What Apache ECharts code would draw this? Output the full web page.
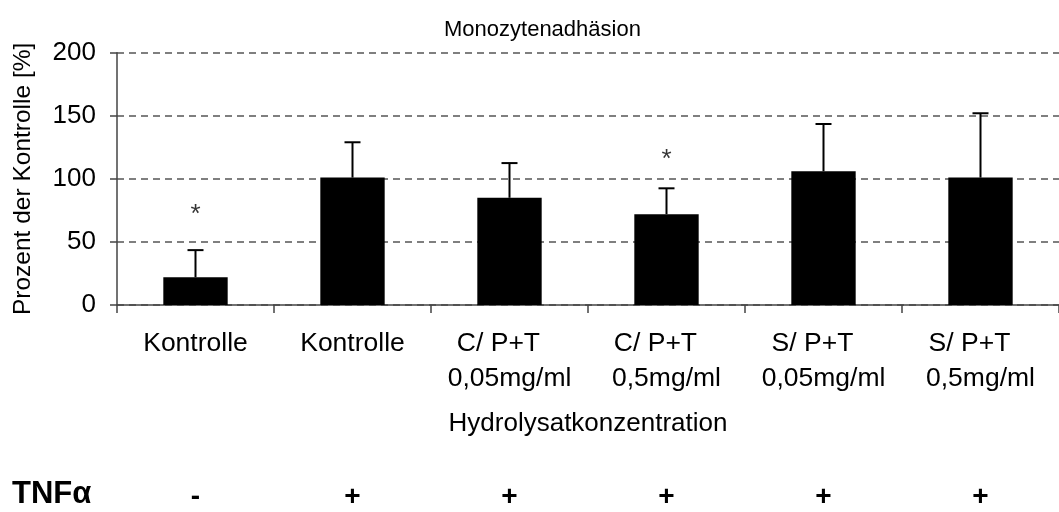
<!DOCTYPE html>
<html>
<head>
<meta charset="utf-8">
<script src="https://cdn.jsdelivr.net/npm/echarts@6/dist/echarts.min.js"></script>
<style>
  html, body { margin: 0; padding: 0; background: #fff; }
  #chart { width: 1059px; height: 512px; }
</style>
</head>
<body>
<div id="chart"></div>
<script>
// Werte
var categories = ['Kontrolle', 'Kontrolle', 'C/ P+T   \n0,05mg/ml', 'C/ P+T   \n0,5mg/ml', 'S/ P+T   \n0,05mg/ml', 'S/ P+T   \n0,5mg/ml'];
var means = [22, 101, 85, 72, 106, 101];
var errTop = [43.5, 129, 112.5, 92.5, 143.5, 152];
var stars = [71.5, null, null, 115, null, null];
var tnf = ['-', '+', '+', '+', '+', '+'];
var yTicks = [0, 50, 100, 150, 200];

var font = 'Liberation Sans, Arial, sans-serif';

var chart = echarts.init(document.getElementById('chart'));

var option = {
  animation: false,
  backgroundColor: '#fff',
  title: {
    text: 'Monozytenadhäsion',
    left: 439,
    top: 14,
    textStyle: { fontFamily: font, fontSize: 22, fontWeight: 'normal', color: '#000' }
  },
  grid: { left: 117, top: 52.7, width: 948, bottom: 207 },
  graphic: [{
    type: 'text',
    left: 12,
    top: 479,
    style: { text: 'TNFα', font: 'bold 31px ' + font, fill: '#000' }
  }],
  xAxis: [{
    type: 'category',
    data: categories,
    boundaryGap: true,
    axisLine: { lineStyle: { color: '#444', width: 1.5 } },
    axisTick: { show: true, length: 8, lineStyle: { color: '#444', width: 1.5 } },
    axisLabel: { margin: 21, fontFamily: font, fontSize: 26.5, color: '#000', lineHeight: 35, interval: 0 },
    name: 'Hydrolysatkonzentration',
    nameLocation: 'middle',
    nameGap: 106,
    nameMoveOverlap: false,
    nameTextStyle: { fontFamily: font, fontSize: 26, color: '#000' }
  }, {
    type: 'category',
    data: tnf,
    position: 'bottom',
    offset: 176,
    axisLine: { show: false },
    axisTick: { show: false },
    axisLabel: { margin: 2, fontFamily: font, fontSize: 28, fontWeight: 'bold', color: '#000', interval: 0 }
  }],
  yAxis: {
    type: 'value',
    min: yTicks[0],
    max: yTicks[yTicks.length - 1],
    interval: 50,
    axisLine: { show: true, lineStyle: { color: '#444', width: 1.5 } },
    axisTick: { show: true, length: 7, lineStyle: { color: '#444', width: 1.5 } },
    axisLabel: { margin: 21, fontFamily: font, fontSize: 26, color: '#000' },
    splitLine: { show: true, lineStyle: { color: '#555', type: [7, 5], width: 1.5 } },
    name: 'Prozent der Kontrolle [%]',
    nameLocation: 'middle',
    nameGap: 81,
    nameMoveOverlap: false,
    nameTextStyle: { fontFamily: font, fontSize: 24.5, color: '#000' }
  },
  series: [{
    type: 'bar',
    data: means,
    barWidth: '41%',
    itemStyle: { color: '#000' }
  }, {
    type: 'custom',
    data: means.map(function (m, i) { return [i, m, errTop[i]]; }),
    renderItem: function (params, api) {
      var base = api.coord([api.value(0), api.value(1)]);
      var top = api.coord([api.value(0), api.value(2)]);
      var style = { stroke: '#000', lineWidth: 2 };
      return {
        type: 'group',
        children: [
          { type: 'line', shape: { x1: base[0], y1: base[1], x2: top[0], y2: top[1] }, style: style },
          { type: 'line', shape: { x1: top[0] - 8, y1: top[1], x2: top[0] + 8, y2: top[1] }, style: style }
        ]
      };
    },
    z: 5
  }, {
    type: 'scatter',
    data: stars,
    symbolSize: 0,
    label: {
      show: true,
      position: 'inside',
      formatter: '*',
      fontFamily: font,
      fontSize: 26,
      color: '#000'
    }
  }]
};

chart.setOption(option);
</script>
</body>
</html>
